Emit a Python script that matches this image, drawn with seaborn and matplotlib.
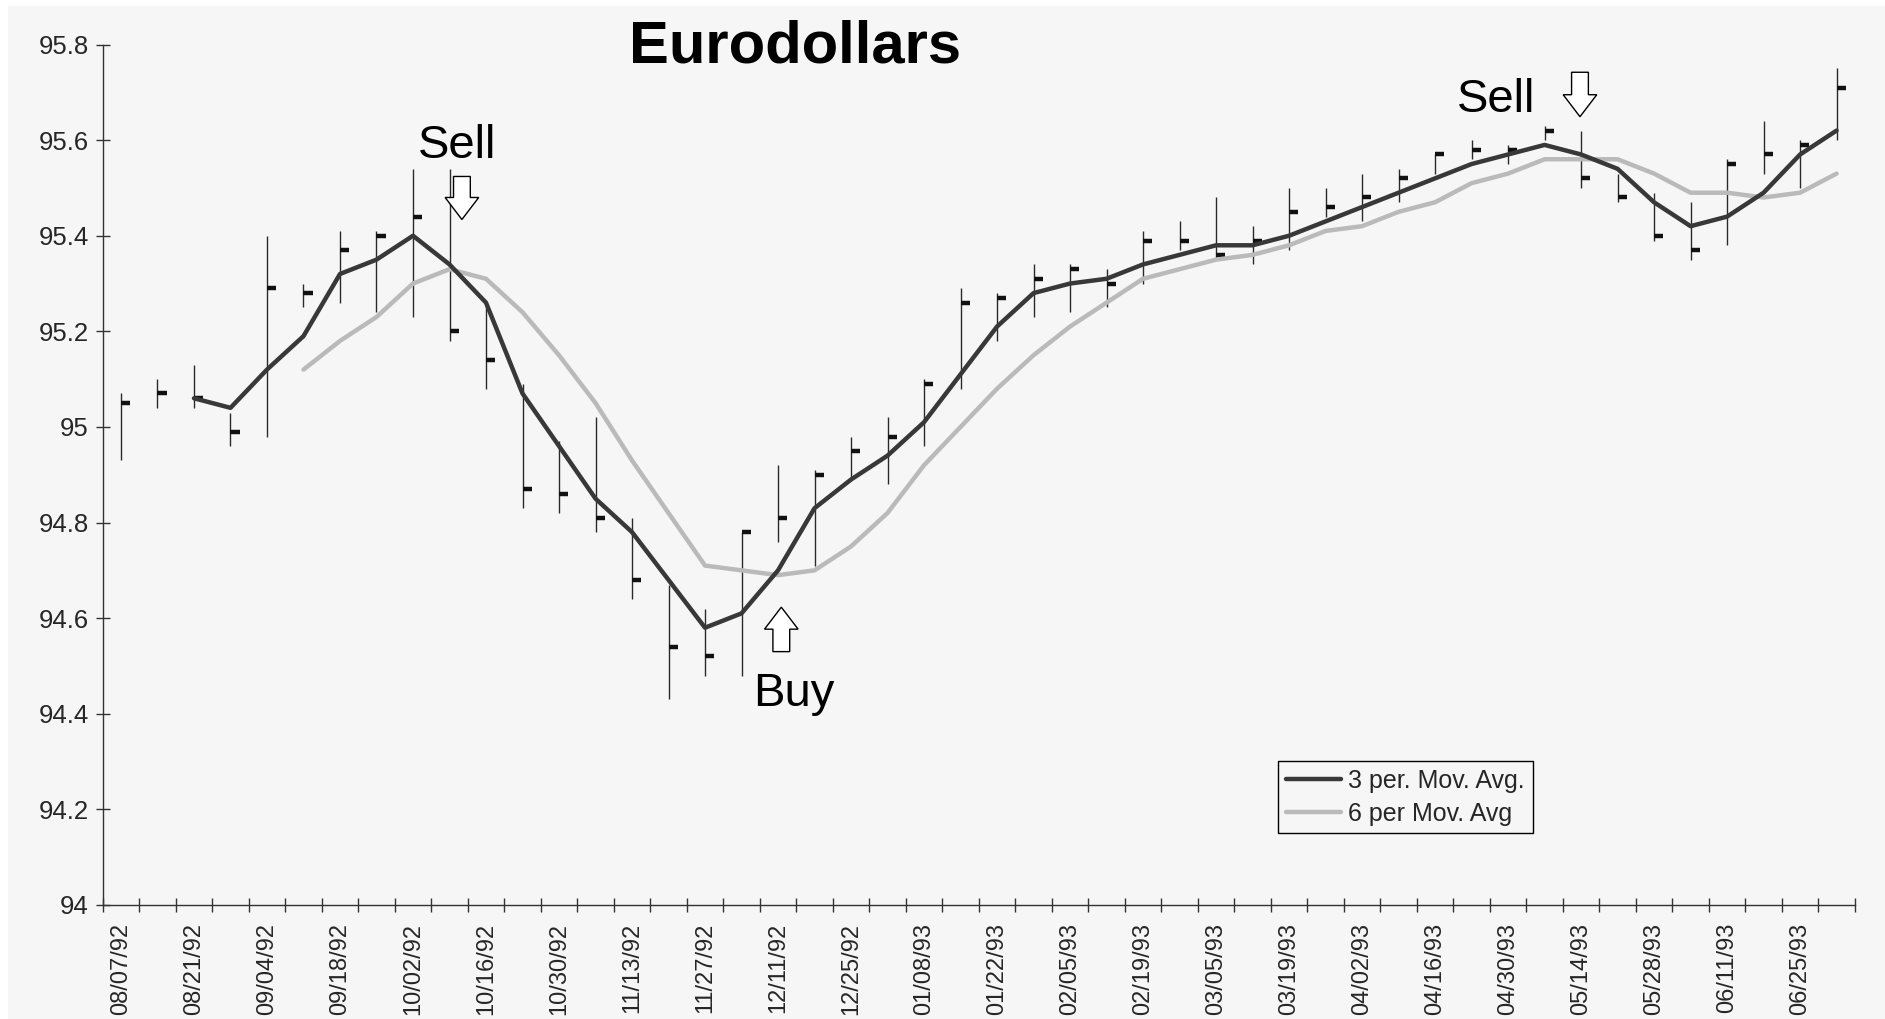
import numpy as np
import pandas as pd
import matplotlib
matplotlib.use("Agg")
import matplotlib.pyplot as plt
import seaborn as sns
from matplotlib.patches import FancyArrow, Rectangle

# ── Data (weekly bars) ──────────────────────────────────────
start_date = "1992-08-07"
n_weeks = 48

highs = [95.07, 95.10, 95.13, 95.03, 95.40, 95.30, 95.41, 95.41, 95.54, 95.54,
         95.26, 95.09, 94.97, 95.02, 94.81, 94.67, 94.62, 94.78, 94.92, 94.91,
         94.98, 95.02, 95.10, 95.29, 95.28, 95.34, 95.34, 95.33, 95.41, 95.43,
         95.48, 95.42, 95.50, 95.50, 95.53, 95.54, 95.57, 95.60, 95.59, 95.63,
         95.62, 95.53, 95.49, 95.47, 95.56, 95.64, 95.60, 95.75]
lows = [94.93, 95.04, 95.04, 94.96, 94.98, 95.25, 95.26, 95.24, 95.23, 95.18,
        95.08, 94.83, 94.82, 94.78, 94.64, 94.43, 94.48, 94.48, 94.76, 94.71,
        94.89, 94.88, 94.96, 95.08, 95.18, 95.23, 95.24, 95.25, 95.30, 95.37,
        95.35, 95.34, 95.37, 95.44, 95.43, 95.47, 95.53, 95.56, 95.55, 95.60,
        95.50, 95.47, 95.39, 95.35, 95.38, 95.53, 95.50, 95.60]
closes = [95.05, 95.07, 95.06, 94.99, 95.29, 95.28, 95.37, 95.40, 95.44, 95.20,
          95.14, 94.87, 94.86, 94.81, 94.68, 94.54, 94.52, 94.78, 94.81, 94.90,
          94.95, 94.98, 95.09, 95.26, 95.27, 95.31, 95.33, 95.30, 95.39, 95.39,
          95.36, 95.39, 95.45, 95.46, 95.48, 95.52, 95.57, 95.58, 95.58, 95.62,
          95.52, 95.48, 95.40, 95.37, 95.55, 95.57, 95.59, 95.71]

nan = np.nan
ma3 = [nan, nan, 95.06, 95.04, 95.12, 95.19, 95.32, 95.35, 95.40, 95.34,
       95.26, 95.07, 94.96, 94.85, 94.78, 94.68, 94.58, 94.61, 94.70, 94.83,
       94.89, 94.94, 95.01, 95.11, 95.21, 95.28, 95.30, 95.31, 95.34, 95.36,
       95.38, 95.38, 95.40, 95.43, 95.46, 95.49, 95.52, 95.55, 95.57, 95.59,
       95.57, 95.54, 95.47, 95.42, 95.44, 95.49, 95.57, 95.62]
ma6 = [nan, nan, nan, nan, nan, 95.12, 95.18, 95.23, 95.30, 95.33,
       95.31, 95.24, 95.15, 95.05, 94.93, 94.82, 94.71, 94.70, 94.69, 94.70,
       94.75, 94.82, 94.92, 95.00, 95.08, 95.15, 95.21, 95.26, 95.31, 95.33,
       95.35, 95.36, 95.38, 95.41, 95.42, 95.45, 95.47, 95.51, 95.53, 95.56,
       95.56, 95.56, 95.53, 95.49, 95.49, 95.48, 95.49, 95.53]

ma_names = ["3 per. Mov. Avg.", "6 per Mov. Avg"]
y_ticks = [94, 94.2, 94.4, 94.6, 94.8, 95, 95.2, 95.4, 95.6, 95.8]
y_labels = ["94", "94.2", "94.4", "94.6", "94.8", "95", "95.2", "95.4", "95.6", "95.8"]

# annotations: (text, x-position in weeks, baseline price)
notes = [("Sell", 9.21, 95.563), ("Buy", 18.44, 94.416), ("Sell", 37.66, 95.658)]
# arrows: (x-position, start price, end price)
arrows = [(9.34, 95.524, 95.434), (18.09, 94.530, 94.623), (39.97, 95.742, 95.649)]

# ── Style ───────────────────────────────────────────────────
BG = "#f6f6f6"
DARK = "#383838"
LIGHT = "#bababa"

sns.set_theme(style="white")
plt.rcParams["font.family"] = ["Liberation Sans", "DejaVu Sans"]

fig = plt.figure(figsize=(18.85, 10.19), dpi=100, facecolor="white")
fig.patches.append(Rectangle((0.004, 0), 0.996, 0.994, transform=fig.transFigure,
                             facecolor=BG, edgecolor="none", zorder=-10))
ax = fig.add_axes([0.0545, 0.1119, 0.9295, 0.8444])
ax.patch.set_alpha(0)

# ── Bars: high-low line + close tick ────────────────────────
x = np.arange(n_weeks)
ax.vlines(x, lows, highs, color="#2a2a2a", lw=1.0, zorder=2)
ax.hlines(closes, x, x + 0.25, color="#111111", lw=3.2, zorder=2)

# ── Moving averages ─────────────────────────────────────────
df = pd.DataFrame({"week": x, ma_names[0]: ma3, ma_names[1]: ma6})
long = df.melt("week", var_name="series", value_name="price").dropna()
sns.lineplot(data=long, x="week", y="price", hue="series",
             hue_order=ma_names[::-1], palette={ma_names[0]: DARK, ma_names[1]: LIGHT},
             linewidth=3.2, ax=ax, zorder=3, legend=False)

# ── Buy / Sell arrows and labels ────────────────────────────
for xa, y0, y1 in arrows:
    ax.add_patch(FancyArrow(xa, y0, 0, y1 - y0, width=0.46, head_width=0.92,
                            head_length=0.046, length_includes_head=True,
                            facecolor="white", edgecolor="black", lw=1.0, zorder=4))
for txt, xt, yt in notes:
    ax.text(xt, yt, txt, ha="center", va="baseline", fontsize=34, color="black")

# ── Axes ────────────────────────────────────────────────────
ax.set_xlim(-0.5, n_weeks - 0.5)
ax.set_ylim(94, 95.8)
ax.set_xlabel("")
ax.set_ylabel("")
for s in ["top", "right"]:
    ax.spines[s].set_visible(False)
for s in ["left", "bottom"]:
    ax.spines[s].set_color("#333333")
    ax.spines[s].set_linewidth(1.0)

dates = pd.date_range(start_date, periods=n_weeks, freq="7D")
ax.set_xticks(np.arange(n_weeks + 1) - 0.5)
ax.set_xticklabels([])
ax.set_xticks(x[::2], minor=True)
ax.set_xticklabels([d.strftime("%m/%d/%y") for d in dates[::2]], minor=True,
                   rotation=90, fontsize=17, va="top", ha="center")
ax.tick_params(axis="x", which="major", direction="inout", length=10, width=1,
               color="#333333", bottom=True)
ax.tick_params(axis="x", which="minor", length=0, pad=13, bottom=True)

ax.set_yticks(y_ticks)
ax.set_yticklabels(y_labels, fontsize=18.5)
ax.tick_params(axis="y", direction="inout", length=10, width=1, color="#333333",
               pad=5, left=True)
ax.grid(False)

# ── Legend ──────────────────────────────────────────────────
handles = [plt.Line2D([], [], color=DARK, lw=3.2), plt.Line2D([], [], color=LIGHT, lw=3.2)]
leg = ax.legend(handles, ma_names, loc="upper left", bbox_to_anchor=(0.671, 0.167),
                fontsize=18, frameon=True, fancybox=False, framealpha=1,
                facecolor=BG, edgecolor="black", handlelength=2.2,
                handletextpad=0.3, labelspacing=0.35, borderpad=0.3,
                borderaxespad=0)
leg.get_frame().set_linewidth(1.0)

# ── Title ───────────────────────────────────────────────────
fig.text(795 / 1885, 1 - 62.5 / 1019, "Eurodollars", ha="center", va="baseline",
         fontsize=43, fontweight="bold", color="black")

plt.savefig("out.png", dpi=100, facecolor=fig.get_facecolor())
plt.close()
